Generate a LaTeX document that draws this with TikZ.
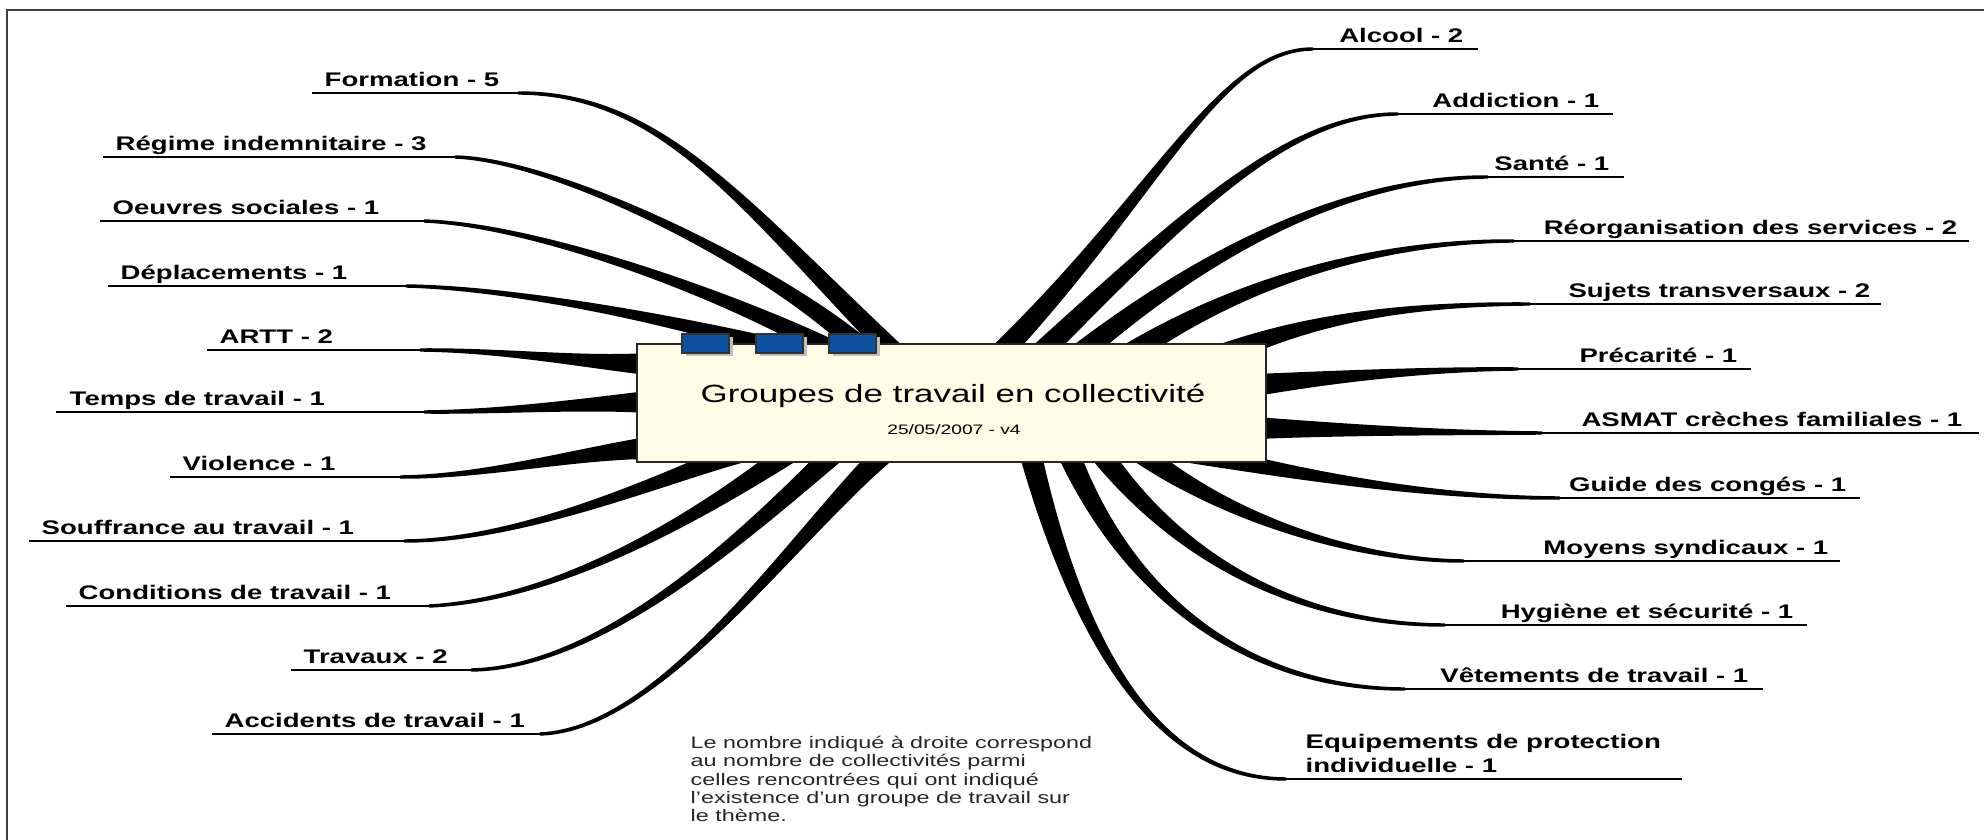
\documentclass[tikz,border=0pt]{standalone}
\usepackage{fontspec}
\setmainfont{Liberation Sans}
\usepackage{xcolor}
\usepackage{tikz}
\usetikzlibrary{
    calc,
    shadows
}
\definecolor{boxcream}{RGB}{255,253,230}
\definecolor{tabblue}{RGB}{12,80,158}
\tikzset{
    frameline/.style={draw=black!75, line width=0.8pt},
    branchfill/.style={fill=black},
    uline/.style={draw=black, line width=0.5pt},
    lbl/.style={inner sep=0pt, font=\fontsize{5.6}{7.1}\selectfont\bfseries},
    titlebox/.style={draw=black!85, line width=0.4pt, fill=boxcream, minimum width=62.9mm, minimum height=11.8mm, inner sep=0pt},
    tabbox/.style={draw=black!80, line width=0.4pt, fill=tabblue, minimum width=4.7mm, minimum height=1.9mm, inner sep=0pt,
        drop shadow={shadow xshift=0.35mm, shadow yshift=-0.35mm, fill=black!25, opacity=1}},
    notetext/.style={inner sep=0pt, text=black!85, font=\fontsize{4.75}{5.2}\selectfont}
}
\newcommand{\wide}[1]{\scalebox{1.4}[1]{#1}}
% tapered branch: start, control, control, end
\newcommand{\branch}[4]{%
    \fill[branchfill] ($(#1)!1.1mm!90:(#2)$) .. controls ($(#2)!0.5mm!90:(#3)$) and ($(#3)!0.25mm!90:(#4)$) .. ($(#4)!0.17mm!-90:(#3)$)
        -- ($(#4)!0.17mm!90:(#3)$) .. controls ($(#3)!0.25mm!-90:(#4)$) and ($(#2)!0.5mm!-90:(#3)$) .. ($(#1)!1.1mm!-90:(#2)$) -- cycle;}

\begin{document}
\begin{tikzpicture}[x=0.1mm, y=-0.1mm]
    \useasboundingbox (0,0) rectangle (1984,840);
    \draw[frameline] (1984,10) -- (7,10) -- (7,840);

    % left side
    \coordinate (formation-s) at (895,354);    \coordinate (formation-e) at (518,93);    \coordinate (formation-u) at (312,93);
    \coordinate (regime-s) at (868,354);       \coordinate (regime-e) at (455,157);      \coordinate (regime-u) at (103,157);
    \coordinate (oeuvres-s) at (838,354);      \coordinate (oeuvres-e) at (424,221);     \coordinate (oeuvres-u) at (100,221);
    \coordinate (deplacements-s) at (795,354); \coordinate (deplacements-e) at (406,286);\coordinate (deplacements-u) at (108,286);
    \coordinate (artt-s) at (647,364);         \coordinate (artt-e) at (420,350);        \coordinate (artt-u) at (207,350);
    \coordinate (temps-s) at (647,402);        \coordinate (temps-e) at (424,412);       \coordinate (temps-u) at (56,412);
    \coordinate (violence-s) at (647,448);     \coordinate (violence-e) at (400,477);    \coordinate (violence-u) at (170,477);
    \coordinate (souffrance-s) at (740,452);   \coordinate (souffrance-e) at (404,541);  \coordinate (souffrance-u) at (29,541);
    \coordinate (conditions-s) at (790,452);   \coordinate (conditions-e) at (429,606);  \coordinate (conditions-u) at (66,606);
    \coordinate (travaux-s) at (835,452);      \coordinate (travaux-e) at (471,670);     \coordinate (travaux-u) at (291,670);
    \coordinate (accidents-s) at (885,452);    \coordinate (accidents-e) at (540,734);   \coordinate (accidents-u) at (212,734);

    % right side
    \coordinate (alcool-s) at (1000,354);      \coordinate (alcool-e) at (1313,49);      \coordinate (alcool-u) at (1478,49);
    \coordinate (addiction-s) at (1040,354);   \coordinate (addiction-e) at (1398,114);  \coordinate (addiction-u) at (1613,114);
    \coordinate (sante-s) at (1080,354);       \coordinate (sante-e) at (1488,177);      \coordinate (sante-u) at (1624,177);
    \coordinate (reorg-s) at (1130,354);       \coordinate (reorg-e) at (1514,241);      \coordinate (reorg-u) at (1969,241);
    \coordinate (sujets-s) at (1225,354);      \coordinate (sujets-e) at (1530,304);     \coordinate (sujets-u) at (1881,304);
    \coordinate (precarite-s) at (1256,385);   \coordinate (precarite-e) at (1518,369);  \coordinate (precarite-u) at (1751,369);
    \coordinate (asmat-s) at (1256,428);       \coordinate (asmat-e) at (1542,433);      \coordinate (asmat-u) at (1979,433);
    \coordinate (guide-s) at (1190,452);       \coordinate (guide-e) at (1560,498);      \coordinate (guide-u) at (1860,498);
    \coordinate (moyens-s) at (1140,452);      \coordinate (moyens-e) at (1464,561);     \coordinate (moyens-u) at (1840,561);
    \coordinate (hygiene-s) at (1100,452);     \coordinate (hygiene-e) at (1445,625);    \coordinate (hygiene-u) at (1807,625);
    \coordinate (vetements-s) at (1068,452);   \coordinate (vetements-e) at (1405,689);  \coordinate (vetements-u) at (1763,689);
    \coordinate (equipements-s) at (1030,452); \coordinate (equipements-e) at (1286,779);\coordinate (equipements-u) at (1682,779);

    \branch{formation-s}{740,200}{660,93}{formation-e}
    \branch{regime-s}{780,270}{560,160}{regime-e}
    \branch{oeuvres-s}{740,300}{540,225}{oeuvres-e}
    \branch{deplacements-s}{700,325}{520,288}{deplacements-e}
    \branch{artt-s}{580,362}{500,350}{artt-e}
    \branch{temps-s}{580,404}{500,412}{temps-e}
    \branch{violence-s}{570,455}{480,477}{violence-e}
    \branch{souffrance-s}{660,480}{520,541}{souffrance-e}
    \branch{conditions-s}{700,515}{560,600}{conditions-e}
    \branch{travaux-s}{740,540}{600,668}{travaux-e}
    \branch{accidents-s}{790,540}{660,730}{accidents-e}

    \branch{alcool-s}{1160,190}{1220,49}{alcool-e}
    \branch{addiction-s}{1190,210}{1290,114}{addiction-e}
    \branch{sante-s}{1220,240}{1360,177}{sante-e}
    \branch{reorg-s}{1260,270}{1400,241}{reorg-e}
    \branch{sujets-s}{1320,315}{1420,304}{sujets-e}
    \branch{precarite-s}{1350,375}{1440,369}{precarite-e}
    \branch{asmat-s}{1360,430}{1450,433}{asmat-e}
    \branch{guide-s}{1300,475}{1430,498}{guide-e}
    \branch{moyens-s}{1230,520}{1360,561}{moyens-e}
    \branch{hygiene-s}{1180,560}{1300,625}{hygiene-e}
    \branch{vetements-s}{1130,600}{1250,689}{vetements-e}
    \branch{equipements-s}{1080,650}{1160,779}{equipements-e}

    \foreach \n in {formation,regime,oeuvres,deplacements,artt,temps,violence,souffrance,conditions,travaux,accidents,
                    alcool,addiction,sante,reorg,sujets,precarite,asmat,guide,moyens,hygiene,vetements,equipements}
        \draw[uline] (\n-e) to (\n-u);

    % central box
    \draw (951.5,403) node[titlebox](groupes){};
    \draw (705.5,343.5) node[tabbox](tab1){};
    \draw (779.5,343.5) node[tabbox](tab2){};
    \draw (852.5,343.5) node[tabbox](tab3){};
    \draw (953,403) node[anchor=base, inner sep=0pt, font=\fontsize{7.1}{8.5}\selectfont](titre){\wide{Groupes de travail en collectivité}};
    \draw (954,435) node[anchor=base, inner sep=0pt, font=\fontsize{3.9}{4.7}\selectfont](date){\wide{25/05/2007 - v4}};

    % labels
    \path (formation-u) ++(12,-6) node[lbl, anchor=base west](formation){\wide{Formation - 5}};
    \path (regime-u) ++(12,-6) node[lbl, anchor=base west](regime){\wide{Régime indemnitaire - 3}};
    \path (oeuvres-u) ++(12,-6) node[lbl, anchor=base west](oeuvres){\wide{Oeuvres sociales - 1}};
    \path (deplacements-u) ++(12,-6) node[lbl, anchor=base west](deplacements){\wide{Déplacements - 1}};
    \path (artt-u) ++(12,-6) node[lbl, anchor=base west](artt){\wide{ARTT - 2}};
    \path (temps-u) ++(13,-6) node[lbl, anchor=base west](temps){\wide{Temps de travail - 1}};
    \path (violence-u) ++(12,-6) node[lbl, anchor=base west](violence){\wide{Violence - 1}};
    \path (souffrance-u) ++(12,-6) node[lbl, anchor=base west](souffrance){\wide{Souffrance au travail - 1}};
    \path (conditions-u) ++(12,-6) node[lbl, anchor=base west](conditions){\wide{Conditions de travail - 1}};
    \path (travaux-u) ++(12,-6) node[lbl, anchor=base west](travaux){\wide{Travaux - 2}};
    \path (accidents-u) ++(12,-6) node[lbl, anchor=base west](accidents){\wide{Accidents de travail - 1}};

    \path (alcool-u) ++(-14,-6) node[lbl, anchor=base east](alcool){\wide{Alcool - 2}};
    \path (addiction-u) ++(-13,-6) node[lbl, anchor=base east](addiction){\wide{Addiction - 1}};
    \path (sante-u) ++(-14,-6) node[lbl, anchor=base east](sante){\wide{Santé - 1}};
    \path (reorg-u) ++(-11,-6) node[lbl, anchor=base east](reorg){\wide{Réorganisation des services - 2}};
    \path (sujets-u) ++(-10,-6) node[lbl, anchor=base east](sujets){\wide{Sujets transversaux - 2}};
    \path (precarite-u) ++(-13,-6) node[lbl, anchor=base east](precarite){\wide{Précarité - 1}};
    \path (asmat-u) ++(-16,-6) node[lbl, anchor=base east](asmat){\wide{ASMAT crèches familiales - 1}};
    \path (guide-u) ++(-13,-6) node[lbl, anchor=base east](guide){\wide{Guide des congés - 1}};
    \path (moyens-u) ++(-11,-6) node[lbl, anchor=base east](moyens){\wide{Moyens syndicaux - 1}};
    \path (hygiene-u) ++(-13,-6) node[lbl, anchor=base east](hygiene){\wide{Hygiène et sécurité - 1}};
    \path (vetements-u) ++(-14,-6) node[lbl, anchor=base east](vetements){\wide{Vêtements de travail - 1}};
    \path (equipements-e) ++(19,-6) node[lbl, anchor=base west](equipements){\wide{\begin{tabular}[b]{@{}l@{}}Equipements de protection\\individuelle - 1\end{tabular}}};

    % note
    \draw (690,735) node[notetext, anchor=north west](note){\wide{\begin{tabular}{@{}l@{}}Le nombre indiqué à droite correspond\\au nombre de collectivités parmi\\celles rencontrées qui ont indiqué\\l'existence d'un groupe de travail sur\\le thème.\end{tabular}}};
\end{tikzpicture}
\end{document}
